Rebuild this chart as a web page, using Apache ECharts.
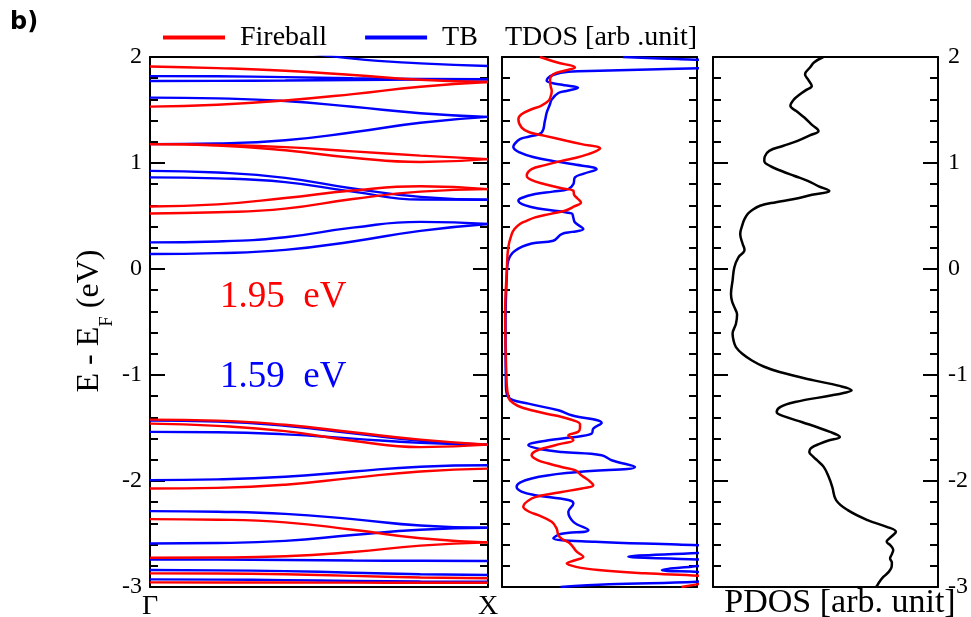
<!DOCTYPE html>
<html>
<head>
<meta charset="utf-8">
<script src="https://cdn.jsdelivr.net/npm/echarts@6/dist/echarts.min.js"></script>
<style>
html,body{margin:0;padding:0;background:#fff;}
#chart{width:971px;height:617px;}
</style>
</head>
<body>
<div id="chart"></div>
<script>
// ---------------- DATA ----------------
const kPoints = [0, 0.2, 0.4, 0.6, 0.8, 1];
const kLabels = ['Γ', 'X'];
const yTicks = [-3, -2, -1, 0, 1, 2];

const fireballBands = [
  [1.91, 1.895, 1.87, 1.83, 1.785, 1.764],
  [1.532, 1.55, 1.59, 1.65, 1.72, 1.764],
  [1.178, 1.17, 1.15, 1.11, 1.07, 1.037],
  [1.178, 1.165, 1.12, 1.05, 1.01, 1.037],
  [0.59, 0.61, 0.67, 0.74, 0.78, 0.754],
  [0.524, 0.535, 0.57, 0.66, 0.73, 0.754],
  [-1.421, -1.43, -1.47, -1.54, -1.61, -1.657],
  [-1.459, -1.48, -1.53, -1.62, -1.68, -1.657],
  [-2.071, -2.065, -2.035, -1.97, -1.91, -1.883],
  [-2.36, -2.365, -2.39, -2.46, -2.54, -2.579],
  [-2.724, -2.722, -2.71, -2.67, -2.61, -2.579],
  [-2.871, -2.873, -2.88, -2.895, -2.91, -2.918],
  [-2.956, -2.957, -2.958, -2.959, -2.96, -2.96]
];

const tbBands = [
  [2.3, 2.2, 2.07, 1.985, 1.94, 1.915],
  [1.82, 1.818, 1.81, 1.80, 1.793, 1.79],
  [1.774, 1.775, 1.778, 1.783, 1.788, 1.79],
  [1.617, 1.61, 1.585, 1.53, 1.47, 1.435],
  [1.178, 1.185, 1.215, 1.29, 1.38, 1.435],
  [0.926, 0.91, 0.86, 0.76, 0.68, 0.653],
  [0.864, 0.855, 0.82, 0.73, 0.655, 0.653],
  [0.251, 0.26, 0.3, 0.39, 0.445, 0.425],
  [0.142, 0.15, 0.18, 0.26, 0.36, 0.425],
  [-1.43, -1.44, -1.48, -1.55, -1.62, -1.657],
  [-1.537, -1.54, -1.56, -1.6, -1.64, -1.657],
  [-1.992, -1.985, -1.96, -1.91, -1.865, -1.851],
  [-2.284, -2.29, -2.31, -2.36, -2.42, -2.441],
  [-2.589, -2.585, -2.565, -2.51, -2.46, -2.441],
  [-2.74, -2.742, -2.745, -2.75, -2.753, -2.755],
  [-2.84, -2.843, -2.85, -2.865, -2.88, -2.887],
  [-2.928, -2.93, -2.935, -2.942, -2.948, -2.95]
];

// TDOS (Fireball): energies and values (arb. units, 0-100 = panel width)
const tdosFbE = [2.0,1.95,1.90,1.87,1.837,1.775,1.72,1.68,1.63,1.586,1.54,1.507,1.46,1.413,1.334,1.29,1.256,1.21,1.178,1.137,1.11,1.084,1.05,1.02,0.98,0.942,0.879,0.84,0.80,0.76,0.738,0.70,0.66,0.628,0.59,0.55,0.52,0.487,0.45,0.425,0.38,0.33,0.204,0.0,-0.42,-1.082,-1.20,-1.239,-1.29,-1.333,-1.37,-1.396,-1.43,-1.465,-1.50,-1.537,-1.57,-1.60,-1.616,-1.65,-1.679,-1.72,-1.757,-1.80,-1.835,-1.87,-1.898,-1.95,-1.992,-2.04,-2.07,-2.103,-2.135,-2.165,-2.244,-2.29,-2.322,-2.385,-2.447,-2.51,-2.55,-2.589,-2.667,-2.715,-2.75,-2.777,-2.81,-2.84,-2.871,-2.90,-2.93,-2.96,-3.0];
const tdosFbV = [19.5,28,37.4,32,26.3,24.6,25,25.5,25,23.8,20,15.2,10,8.4,10.1,14,22,33,40.8,50.3,48,44.3,38,30.6,22,15.2,12.7,15,22,31,36.6,37,39,40.5,37,32.3,25,17,12,9.2,6.5,5,3.2,2.5,1.6,2.4,3.2,4.1,8,15.2,24,30.6,37,40,40,39,34,36,36.6,30,23.8,17,15.2,18,23.8,31,37.4,41,44.3,46.8,41,30.6,21,15.2,10.9,14,18.6,25.5,28,28.9,31,34.9,38.3,41.7,37,33.2,38,49.4,73.3,105,115,105,92];

// TDOS (TB)
const tdosTbE = [2.0,1.98,1.96,1.93,1.90,1.885,1.87,1.86,1.83,1.80,1.775,1.74,1.711,1.68,1.66,1.60,1.554,1.48,1.397,1.287,1.25,1.225,1.18,1.15,1.10,1.052,1.02,0.99,0.942,0.90,0.864,0.80,0.753,0.73,0.707,0.67,0.644,0.60,0.566,0.525,0.49,0.44,0.377,0.35,0.33,0.267,0.24,0.173,0.079,-0.046,-0.5,-1.1,-1.208,-1.27,-1.333,-1.38,-1.453,-1.506,-1.553,-1.59,-1.616,-1.663,-1.70,-1.726,-1.757,-1.804,-1.867,-1.914,-1.977,-2.055,-2.10,-2.134,-2.18,-2.212,-2.291,-2.385,-2.463,-2.50,-2.541,-2.573,-2.60,-2.63,-2.67,-2.715,-2.74,-2.77,-2.808,-2.84,-2.87,-2.92,-2.95,-2.975,-3.0];
const tdosTbV = [62,90,115,125,108,80,50,34,26,23.5,22.9,30,39,33,28.9,25.5,24.6,23,22,20.3,14,9.2,6.5,5.8,9,17,26,35.7,48.5,42,37.4,36.6,34,26,17,10,8.4,12,20.3,35.7,36.5,37.4,41.7,36,30.6,26.3,15.2,6.7,3.2,2.5,1.8,2,3.2,13.5,28.9,35.7,51.1,46.8,46,35,23.8,13.5,20,30.6,51.1,56.2,68.2,39,15.2,7.5,10,17,34,36.6,34,36.6,44.3,30,26.3,47.7,90,130,110,64.8,100,120,97,82,110,120,100,55,30];

// PDOS
const pdosE = [2.0,1.95,1.9,1.837,1.78,1.727,1.69,1.649,1.6,1.539,1.49,1.429,1.36,1.303,1.26,1.209,1.16,1.115,1.06,1.02,0.97,0.927,0.88,0.832,0.78,0.738,0.70,0.66,0.63,0.597,0.55,0.519,0.47,0.425,0.33,0.236,0.18,0.157,0.11,0.016,-0.109,-0.235,-0.30,-0.36,-0.43,-0.517,-0.611,-0.68,-0.737,-0.80,-0.863,-0.92,-0.972,-1.051,-1.1,-1.145,-1.17,-1.192,-1.255,-1.30,-1.349,-1.40,-1.443,-1.537,-1.585,-1.62,-1.647,-1.69,-1.726,-1.77,-1.804,-1.867,-1.961,-2.055,-2.18,-2.275,-2.369,-2.432,-2.479,-2.52,-2.573,-2.61,-2.652,-2.69,-2.73,-2.77,-2.809,-2.86,-2.903,-2.95,-2.988,-3.0];
const pdosV = [49,45,43.1,40.9,42.5,43.9,41.5,38.7,36,34.4,37,40.6,44,46.9,43,37.6,31,25,23,22.8,25.5,30.2,36,42.1,47,51.7,44,36.1,28,20.9,17,15.4,14,13.2,12.1,13.2,14,13.5,11.3,9.5,8.7,8,8.4,9.5,10.7,10.2,8.7,9.2,10.2,13,17.3,22.5,29.6,44.8,55.7,61.6,58,52.9,36.4,30,28.3,33,39.4,52,56.4,51,47.6,43.5,42.8,44.5,46.2,49.2,51.4,53,54.7,59.9,68.7,77.2,81.3,79.5,77.2,79,80.1,79.5,78.7,79.5,79.4,78,75.8,74,72.9,72.5];

// ---------------- STYLE / LAYOUT ----------------
const RED = '#ff0000', BLUE = '#0000ff', BLACK = '#000000';
const SERIF = '"Liberation Serif", "Times New Roman", serif';
const TOP = 57, HEIGHT = 530;
const grids = [
  {left: 150, top: TOP, width: 338, height: HEIGHT},
  {left: 502, top: TOP, width: 195, height: HEIGHT},
  {left: 713, top: TOP, width: 225, height: HEIGHT}
];
const axisLineStyle = {color: BLACK, width: 2};

function xAx(gi, pos, max) {
  return {
    type: 'value', gridIndex: gi, position: pos, min: 0, max: max,
    axisLine: {show: true, onZero: false, lineStyle: axisLineStyle},
    axisTick: {show: false}, axisLabel: {show: false}, splitLine: {show: false}
  };
}
function yAx(gi, pos, showLabel, majorLen, minorLen) {
  return {
    type: 'value', gridIndex: gi, position: pos, min: yTicks[0], max: yTicks[yTicks.length - 1], interval: 1,
    axisLine: {show: true, onZero: false, lineStyle: axisLineStyle},
    axisTick: {show: true, inside: true, length: majorLen, lineStyle: {color: BLACK, width: 2}},
    minorTick: {show: true, splitNumber: 5, length: minorLen, lineStyle: {color: BLACK, width: 2}},
    axisLabel: {show: showLabel, fontSize: 24, fontFamily: SERIF, color: BLACK, margin: pos === 'left' ? 8 : 10},
    splitLine: {show: false}, minorSplitLine: {show: false}
  };
}

const xAxes = [
  xAx(0, 'bottom', 1), xAx(0, 'top', 1),
  xAx(1, 'bottom', 100), xAx(1, 'top', 100),
  xAx(2, 'bottom', 100), xAx(2, 'top', 100)
];
const yAxes = [
  yAx(0, 'left', true, 15, 8), yAx(0, 'right', false, 15, 8),
  yAx(1, 'left', false, 8, 8), yAx(1, 'right', false, 8, 8),
  yAx(2, 'left', false, 15, 8), yAx(2, 'right', true, 15, 8)
];

function bandSeries(name, bands, color) {
  return bands.map(b => ({
    type: 'line', name: name, xAxisIndex: 0, yAxisIndex: 0,
    data: kPoints.map((k, i) => [k, b[i]]),
    showSymbol: false, symbol: 'none', smooth: 0.5, smoothMonotone: 'none', clip: true,
    lineStyle: {color: color, width: 2.4}, itemStyle: {color: color}
  }));
}
function dosSeries(name, E, V, color, xi, yi) {
  return {
    type: 'line', name: name, xAxisIndex: xi, yAxisIndex: yi,
    data: E.map((e, i) => [V[i], e]),
    showSymbol: false, symbol: 'none', smooth: 0.4, smoothMonotone: 'none', clip: true,
    lineStyle: {color: color, width: 2.5}, itemStyle: {color: color}
  };
}

const series = []
  .concat(bandSeries('TB', tbBands, BLUE))
  .concat(bandSeries('Fireball', fireballBands, RED))
  .concat([
    dosSeries('TB', tdosTbE, tdosTbV, BLUE, 2, 2),
    dosSeries('Fireball', tdosFbE, tdosFbV, RED, 2, 2),
    dosSeries('PDOS', pdosE, pdosV, BLACK, 4, 4)
  ]);

const option = {
  animation: false,
  backgroundColor: '#ffffff',
  legend: {
    data: ['Fireball', 'TB'], left: 163, top: 23.5, padding: 0,
    icon: 'rect', itemWidth: 62, itemHeight: 4, itemGap: 38,
    textStyle: {fontSize: 28, fontFamily: SERIF, color: BLACK, padding: [0, 0, 0, 10]},
    selectedMode: false
  },
  grid: grids,
  xAxis: xAxes,
  yAxis: yAxes,
  series: series,
  graphic: [
    {type: 'text', x: 10, y: 23, style: {text: 'b)', fontSize: 24, fontWeight: 'bold', fontFamily: '"DejaVu Sans", sans-serif', fill: BLACK, align: 'left', verticalAlign: 'middle'}},
    {type: 'text', x: 601, y: 38, style: {text: 'TDOS [arb .unit]', fontSize: 28, fontFamily: SERIF, fill: BLACK, align: 'center', verticalAlign: 'middle'}},
    {type: 'text', x: 840, y: 603, style: {text: 'PDOS [arb. unit]', fontSize: 34, fontFamily: SERIF, fill: BLACK, align: 'center', verticalAlign: 'middle'}},
    {type: 'text', x: 150, y: 607, style: {text: kLabels[0], fontSize: 28, fontFamily: SERIF, fill: BLACK, align: 'center', verticalAlign: 'middle'}},
    {type: 'text', x: 488, y: 607, style: {text: kLabels[1], fontSize: 28, fontFamily: SERIF, fill: BLACK, align: 'center', verticalAlign: 'middle'}},
    {type: 'text', x: 220, y: 297, style: {text: '1.95  eV', fontSize: 37, fontFamily: SERIF, fill: RED, align: 'left', verticalAlign: 'middle'}},
    {type: 'text', x: 220, y: 377, style: {text: '1.59  eV', fontSize: 37, fontFamily: SERIF, fill: BLUE, align: 'left', verticalAlign: 'middle'}},
    {type: 'text', x: 90, y: 321, rotation: Math.PI / 2,
     style: {text: '{n|E - E}{s|F}{n| (eV)}', align: 'center', verticalAlign: 'middle', fill: BLACK,
       rich: {
         n: {fontSize: 32, fontFamily: SERIF, fill: BLACK, lineHeight: 53},
         s: {fontSize: 19, fontFamily: SERIF, fill: BLACK, lineHeight: 19, verticalAlign: 'bottom'}
       }}}
  ]
};

const chart = echarts.init(document.getElementById('chart'), null, {renderer: 'canvas'});
chart.setOption(option);
</script>
</body>
</html>
